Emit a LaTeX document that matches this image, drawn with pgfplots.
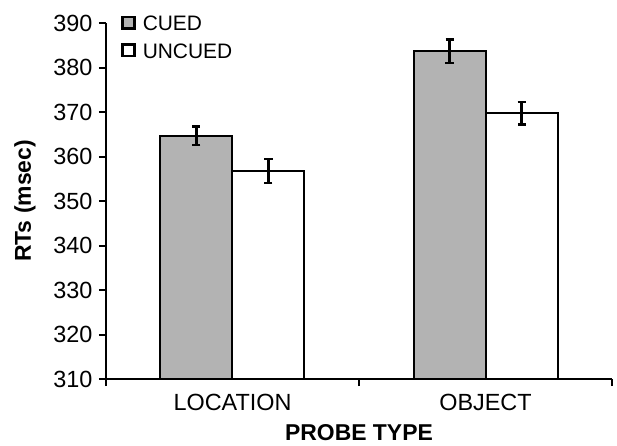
\documentclass[border=0pt]{standalone}
\usepackage{fontspec}
\setmainfont{Liberation Sans}
\usepackage{pgfplots}
\pgfplotsset{compat=1.18}
\definecolor{cuedgray}{RGB}{179,179,179}
\begin{document}
\begin{tikzpicture}
\begin{axis}[name=ax, at={(0,0)}, anchor=south west,
  scale only axis, width=506bp, height=356bp,
  xmin=-0.5, xmax=1.5, ymin=310, ymax=390,
  axis x line*=bottom, axis y line*=left,
  axis line style={line width=2bp, -, black},
  axis on top,
  ybar=0pt, bar width=72bp,
  ytick={310,320,...,390},
  xtick={-0.5,0.5,1.5}, xticklabels={},
  extra x ticks={0,1}, extra x tick labels={LOCATION,OBJECT},
  extra x tick style={major tick length=0pt, tick label style={yshift=-12bp}},
  tick align=outside, major tick length=7bp,
  tick style={line width=2bp, black},
  /pgf/number format/assume math mode=true,
  tick label style={font=\fontsize{23.5}{27}\selectfont},
  yticklabel style={xshift=-3bp},
  xlabel={PROBE TYPE}, ylabel={RTs (msec)},
  xlabel style={font=\bfseries\fontsize{23}{27}\selectfont, at={(axis description cs:0.5,-0.150)}, anchor=center},
  ylabel style={font=\bfseries\fontsize{23}{27}\selectfont, at={(axis description cs:-0.160,0.5)}, anchor=center},
  legend style={at={(0.03,1.021)}, anchor=north west, draw=none, fill=none,
    inner sep=0pt, outer sep=0pt, font=\fontsize{21}{24}\selectfont,
    row sep=12.5bp, nodes={inner sep=0pt, text height=15bp, text depth=0pt},
    /tikz/every odd column/.append style={column sep=7bp}},
  legend cell align=left,
  legend image code/.code={\draw[#1, line width=2.6bp] (0bp,-5.5bp) rectangle (12bp,6bp);},
]
\addplot[fill=cuedgray, draw=black, line width=2bp,
  error bars/.cd, y dir=both, y explicit,
  error bar style={line width=2.2bp, black},
  error mark options={rotate=90, mark size=4bp, line width=2.2bp, black}]
  coordinates {(0,364.7) +- (0,2.05) (1,383.7) +- (0,2.6)};
\addplot[fill=white, draw=black, line width=2bp,
  error bars/.cd, y dir=both, y explicit,
  error bar style={line width=2.2bp, black},
  error mark options={rotate=90, mark size=4bp, line width=2.2bp, black}]
  coordinates {(0,356.7) +- (0,2.7) (1,369.7) +- (0,2.5)};
\legend{CUED,UNCUED}
\end{axis}
\pgfresetboundingbox
\path (ax.south west) ++(-106bp,-67bp) rectangle ++(617bp,446bp);
\end{tikzpicture}
\end{document}
